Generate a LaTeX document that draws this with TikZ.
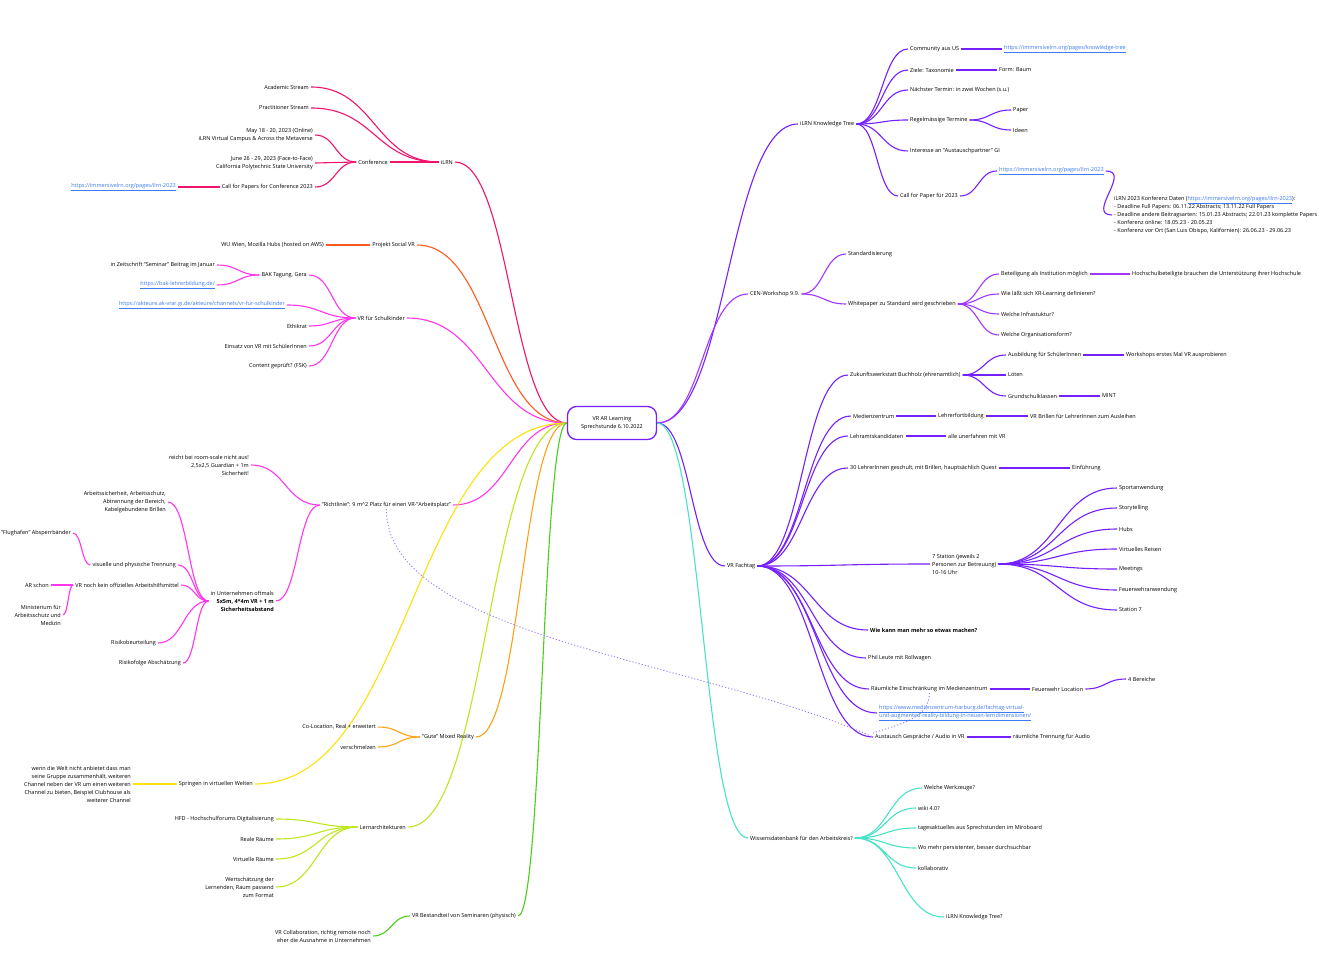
\documentclass[tikz,border=0pt]{standalone}
\usepackage{fontspec}
\setmainfont{Open Sans}
\usetikzlibrary{calc}
\pgfdeclarelayer{edgelayer}
\pgfdeclarelayer{nodelayer}
\pgfsetlayers{edgelayer,nodelayer,main}
\definecolor{crimson}{HTML}{F0146E}
\definecolor{fire}{HTML}{FF5A1F}
\definecolor{pinky}{HTML}{FF36EC}
\definecolor{sun}{HTML}{FFE10A}
\definecolor{amber}{HTML}{FFA114}
\definecolor{mmlime}{HTML}{BDE81C}
\definecolor{leaf}{HTML}{4BCF1B}
\definecolor{grape}{HTML}{7420FF}
\definecolor{lilac}{HTML}{A238FF}
\definecolor{aqua}{HTML}{48E2C6}
\definecolor{dots}{HTML}{9C7EFF}
\definecolor{linkblue}{HTML}{3D7BF0}
\newcommand{\lnk}[1]{\underline{#1}}
\tikzset{font=\fontsize{5.5}{8}\selectfont}
\tikzstyle{none}=[inner sep=0pt]
\tikzstyle{lt}=[anchor=east, align=right, inner xsep=2pt, inner ysep=1pt]
\tikzstyle{rt}=[anchor=west, align=left, inner xsep=2pt, inner ysep=1pt]
\tikzstyle{url}=[text=linkblue]
\tikzstyle{root}=[draw=grape, line width=1.3pt, rounded corners=9pt, minimum width=89pt, minimum height=33pt, fill=white, align=center]
\tikzstyle{mm}=[line width=1.1pt, to path={let \p1=(\tikztostart), \p2=(\tikztotarget), \n1={0.5*(\x2-\x1)}, \n2={-0.5*(\x2-\x1)} in .. controls +(\n1,0pt) and +(\n2,0pt) .. (\tikztotarget) \tikztonodes}]
\tikzstyle{link}=[dots, line width=0.9pt, dash pattern=on 1.2pt off 2pt]

\begin{document}
\begin{tikzpicture}[x=1pt, y=-1pt]
	\useasboundingbox (0,0) rectangle (1323,960);
	\begin{pgfonlayer}{nodelayer}
		\node [style=root] (0) at (612,423) {VR AR Learning\\Sprechstunde 6.10.2022};
		% left side
		\node [style=lt] (1) at (455,162) {iLRN};
		\node [style=lt] (2) at (390,162) {Conference};
		\node [style=lt] (3) at (311,87) {Academic Stream};
		\node [style=lt] (4) at (311,108) {Practitioner Stream};
		\node [style=lt] (5) at (315,135) {May 18 - 20, 2023 (Online)\\iLRN Virtual Campus \& Across the Metaverse};
		\node [style=lt] (6) at (315,163) {June 26 - 29, 2023 (Face-to-Face)\\California Polytechnic State University};
		\node [style=lt] (7) at (315,187) {Call for Papers for Conference 2023};
		\node [style=lt, style=url] (8) at (178,187) {\lnk{https://immersivelrn.org/pages/ilrn-2023}};
		\node [style=lt] (9) at (417,245) {Projekt Social VR};
		\node [style=lt] (10) at (326,245) {WU Wien, Mozilla Hubs (hosted on AWS)};
		\node [style=lt] (11) at (407,318) {VR für Schulkinder};
		\node [style=lt] (12) at (309,275) {BAK Tagung, Gera};
		\node [style=lt] (13) at (217,265) {in Zeitschrift "Seminar" Beitrag im Januar};
		\node [style=lt, style=url] (14) at (217,285) {\lnk{https://bak-lehrerbildung.de/}};
		\node [style=lt, style=url] (15) at (287,305) {\lnk{https://akteure.ak-vrar.gi.de/akteure/channels/vr-fur-schulkinder}};
		\node [style=lt] (16) at (309,326) {Ethikrat};
		\node [style=lt] (17) at (309,346) {Einsatz von VR mit SchülerInnen};
		\node [style=lt] (18) at (309,366) {Content geprüft? (FSK)};
		\node [style=lt] (19) at (453,505) {"Richtlinie": 9 m\textasciicircum 2 Platz für einen VR-"Arbeitsplatz"};
		\node [style=lt] (20) at (251,465) {reicht bei room-scale nicht aus!\\2,5x2,5 Guardian + 1m\\Sicherheit!};
		\node [style=lt] (21) at (276,601) {in Unternehmen oftmals\\\textbf{5x5m, 4*4m VR + 1 m}\\\textbf{Sicherheitsabstand}};
		\node [style=lt] (22) at (168,502) {Arbeitssicherheit, Arbeitsschutz,\\Abtrennung der Bereich,\\Kabelgebundene Brillen};
		\node [style=lt] (23) at (178,565) {visuelle und physische Trennung};
		\node [style=lt] (24) at (181,585) {VR noch kein offizielles Arbeitshilfsmittel};
		\node [style=lt] (25) at (158,643) {Risikobeurteilung};
		\node [style=lt] (26) at (183,663) {Risikofolge Abschätzung};
		\node [style=lt] (27) at (73,533) {"Flughafen" Absperrbänder};
		\node [style=lt] (28) at (51,585) {AR schon};
		\node [style=lt] (29) at (63,615) {Ministerium für\\Arbeitsschutz und\\Medizin};
		\node [style=lt] (30) at (255,784) {Springen in virtuellen Welten};
		\node [style=lt] (31) at (133,784) {wenn die Welt nicht anbietet dass man\\seine Gruppe zusammenhält, weiteren\\Channel neben der VR um einen weiteren\\Channel zu bieten, Beispiel Clubhouse als\\weiterer Channel};
		\node [style=lt] (32) at (476,737) {"Gute" Mixed Reality};
		\node [style=lt] (33) at (378,727) {Co-Location, Real + erweitert};
		\node [style=lt] (34) at (378,747) {verschmelzen};
		\node [style=lt] (35) at (408,827) {Lernarchitekturen};
		\node [style=lt] (36) at (276,819) {HFD - Hochschulforums Digitalisierung};
		\node [style=lt] (37) at (276,839) {Reale Räume};
		\node [style=lt] (38) at (276,859) {Virtuelle Räume};
		\node [style=lt] (39) at (276,887) {Wertschätzung der\\Lernenden, Raum passend\\zum Format};
		\node [style=lt] (40) at (518,916) {VR Bestandteil von Seminaren (physisch)};
		\node [style=lt] (41) at (373,936) {VR Collaboration, richtig remote noch\\eher die Ausnahme in Unternehmen};
		% right side
		\node [style=rt] (42) at (798,124) {iLRN Knowledge Tree};
		\node [style=rt] (43) at (908,49) {Community aus US};
		\node [style=rt, style=url] (44) at (1002,49) {\lnk{https://immersivelrn.org/pages/knowledge-tree}};
		\node [style=rt] (45) at (908,70) {Ziele: Taxonomie};
		\node [style=rt] (46) at (997,70) {Form: Baum};
		\node [style=rt] (47) at (908,90) {Nächster Termin: in zwei Wochen (s.u.)};
		\node [style=rt] (48) at (908,120) {Regelmässige Termine};
		\node [style=rt] (49) at (1011,110) {Paper};
		\node [style=rt] (50) at (1011,130) {Ideen};
		\node [style=rt] (51) at (908,151) {Interesse an "Austauschpartner" GI};
		\node [style=rt] (52) at (898,196) {Call for Paper für 2023};
		\node [style=rt, style=url] (53) at (997,171) {\lnk{https://immersivelrn.org/pages/ilrn-2023}};
		\node [style=rt] (54) at (1112,215) {iLRN 2023 Konferenz Daten ({\color{linkblue}\lnk{https://immersivelrn.org/pages/ilrn-2023}}):\\ - Deadline Full Papers: 06.11.22 Abstracts; 13.11.22 Full Papers\\ - Deadline andere Beitragsarten: 15.01.23 Abstracts; 22.01.23 komplette Papers\\ - Konferenz online: 18.05.23 - 20.05.23\\ - Konferenz vor Ort (San Luis Obispo, Kalifornien): 26.06.23 - 29.06.23};
		\node [style=rt] (55) at (748,294) {CEN-Workshop 9.9.};
		\node [style=rt] (56) at (846,254) {Standardisierung};
		\node [style=rt] (57) at (846,304) {Whitepaper zu Standard wird geschrieben};
		\node [style=rt] (58) at (999,274) {Beteiligung als Institution möglich};
		\node [style=rt] (59) at (1130,274) {Hochschulbeteiligte brauchen die Unterstützung ihrer Hochschule};
		\node [style=rt] (60) at (999,294) {Wie läßt sich XR-Learning definieren?};
		\node [style=rt] (61) at (999,314) {Welche Infrastuktur?};
		\node [style=rt] (62) at (999,335) {Welche Organisationsform?};
		\node [style=rt] (63) at (725,566) {VR Fachtag};
		\node [style=rt] (64) at (848,375) {Zukunftswerkstatt Buchholz (ehrenamtlich)};
		\node [style=rt] (65) at (1006,355) {Ausbildung für SchülerInnen};
		\node [style=rt] (66) at (1124,355) {Workshops erstes Mal VR ausprobieren};
		\node [style=rt] (67) at (1006,375) {Löten};
		\node [style=rt] (68) at (1006,396) {Grundschulklassen};
		\node [style=rt] (69) at (1100,396) {MINT};
		\node [style=rt] (70) at (851,416) {Medienzentrum};
		\node [style=rt] (71) at (936,416) {Lehrerfortbildung};
		\node [style=rt] (72) at (1028,416) {VR Brillen für LehrerInnen zum Ausleihen};
		\node [style=rt] (73) at (848,436) {Lehramtskandidaten};
		\node [style=rt] (74) at (946,436) {alle unerfahren mit VR};
		\node [style=rt] (75) at (848,468) {30 LehrerInnen geschult, mit Brillen, hauptsächlich Quest};
		\node [style=rt] (76) at (1070,468) {Einführung};
		\node [style=rt] (77) at (930,564) {7 Station (jeweils 2\\Personen zur Betreuung)\\10-16 Uhr};
		\node [style=rt] (78) at (1117,488) {Sportanwendung};
		\node [style=rt] (79) at (1117,508) {Storytelling};
		\node [style=rt] (80) at (1117,529) {Hubs};
		\node [style=rt] (81) at (1117,549) {Virtuelles Reisen};
		\node [style=rt] (82) at (1117,569) {Meetings};
		\node [style=rt] (83) at (1117,590) {Feuerwehranwendung};
		\node [style=rt] (84) at (1117,610) {Station 7};
		\node [style=rt] (85) at (868,630) {\textbf{Wie kann man mehr so etwas machen?}};
		\node [style=rt] (86) at (866,658) {Phil Leute mit Rollwagen};
		\node [style=rt] (87) at (869,689) {Räumliche Einschränkung im Medienzentrum};
		\node [style=rt] (88) at (1030,689) {Feuerwehr Location};
		\node [style=rt] (89) at (1126,679) {4 Bereiche};
		\node [style=rt, style=url] (90) at (877,713) {\lnk{https://www.medienzentrum-harburg.de/fachtag-virtual-}\\\lnk{und-augmented-reality-bildung-in-neuen-lerndimensionen/}};
		\node [style=rt] (91) at (873,737) {Austausch Gespräche / Audio in VR};
		\node [style=rt] (92) at (1011,737) {räumliche Trennung für Audio};
		\node [style=rt] (93) at (748,838) {Wissensdatenbank für den Arbeitskreis?};
		\node [style=rt] (94) at (922,788) {Welche Werkzeuge?};
		\node [style=rt] (95) at (916,808) {wiki 4.0?};
		\node [style=rt] (96) at (916,828) {tagesaktuelles aus Sprechstunden im Miroboard};
		\node [style=rt] (97) at (916,848) {Wo mehr persistenter, besser durchsuchbar};
		\node [style=rt] (98) at (916,868) {kollaborativ};
		\node [style=rt] (99) at (944,917) {iLRN Knowledge Tree?};
	\end{pgfonlayer}
	\begin{pgfonlayer}{edgelayer}
		\fill [white] (0,0) rectangle (1323,960);
		% left side
		\draw [style=mm, crimson] (0.west) to (1.east);
		\draw [style=mm, crimson] (1.west) to (2.east);
		\draw [style=mm, crimson] (1.west) to (3.east);
		\draw [style=mm, crimson] (1.west) to (4.east);
		\draw [style=mm, crimson] (2.west) to (5.east);
		\draw [style=mm, crimson] (2.west) to (6.east);
		\draw [style=mm, crimson] (2.west) to (7.east);
		\draw [style=mm, crimson] (7.west) to (8.east);
		\draw [style=mm, fire] (0.west) to (9.east);
		\draw [style=mm, fire] (9.west) to (10.east);
		\draw [style=mm, pinky] (0.west) to (11.east);
		\draw [style=mm, pinky] (11.west) to (12.east);
		\draw [style=mm, pinky] (11.west) to (15.east);
		\draw [style=mm, pinky] (11.west) to (16.east);
		\draw [style=mm, pinky] (11.west) to (17.east);
		\draw [style=mm, pinky] (11.west) to (18.east);
		\draw [style=mm, pinky] (12.west) to (13.east);
		\draw [style=mm, pinky] (12.west) to (14.east);
		\draw [style=mm, pinky] (0.west) to (19.east);
		\draw [style=mm, pinky] (19.west) to (20.east);
		\draw [style=mm, pinky] (19.west) to (21.east);
		\draw [style=mm, pinky] (21.west) to (22.east);
		\draw [style=mm, pinky] (21.west) to (23.east);
		\draw [style=mm, pinky] (21.west) to (24.east);
		\draw [style=mm, pinky] (21.west) to (25.east);
		\draw [style=mm, pinky] (21.west) to (26.east);
		\draw [style=mm, pinky] (23.west) to (27.east);
		\draw [style=mm, pinky] (24.west) to (28.east);
		\draw [style=mm, pinky] (24.west) to (29.east);
		\draw [style=mm, sun] (0.west) to (30.east);
		\draw [style=mm, sun] (30.west) to (31.east);
		\draw [style=mm, amber] (0.west) to (32.east);
		\draw [style=mm, amber] (32.west) to (33.east);
		\draw [style=mm, amber] (32.west) to (34.east);
		\draw [style=mm, mmlime] (0.west) to (35.east);
		\draw [style=mm, mmlime] (35.west) to (36.east);
		\draw [style=mm, mmlime] (35.west) to (37.east);
		\draw [style=mm, mmlime] (35.west) to (38.east);
		\draw [style=mm, mmlime] (35.west) to (39.east);
		\draw [style=mm, leaf] (0.west) to (40.east);
		\draw [style=mm, leaf] (40.west) to (41.east);
		% right side
		\draw [style=mm, grape] (0.east) to (42.west);
		\draw [style=mm, grape] (42.east) to (43.west);
		\draw [style=mm, grape] (42.east) to (45.west);
		\draw [style=mm, grape] (42.east) to (47.west);
		\draw [style=mm, grape] (42.east) to (48.west);
		\draw [style=mm, grape] (42.east) to (51.west);
		\draw [style=mm, grape] (42.east) to (52.west);
		\draw [style=mm, grape] (43.east) to (44.west);
		\draw [style=mm, grape] (45.east) to (46.west);
		\draw [style=mm, grape] (48.east) to (49.west);
		\draw [style=mm, grape] (48.east) to (50.west);
		\draw [style=mm, grape] (52.east) to (53.west);
		\draw [line width=1.1pt, grape] [in=180, out=0, looseness=1.50] (53.east) to (54.west);
		\draw [style=mm, lilac] (0.east) to (55.west);
		\draw [style=mm, lilac] (55.east) to (56.west);
		\draw [style=mm, lilac] (55.east) to (57.west);
		\draw [style=mm, lilac] (57.east) to (58.west);
		\draw [style=mm, lilac] (57.east) to (60.west);
		\draw [style=mm, lilac] (57.east) to (61.west);
		\draw [style=mm, lilac] (57.east) to (62.west);
		\draw [style=mm, lilac] (58.east) to (59.west);
		\draw [style=mm, grape] (0.east) to (63.west);
		\draw [style=mm, grape] (63.east) to (64.west);
		\draw [style=mm, grape] (63.east) to (70.west);
		\draw [style=mm, grape] (63.east) to (73.west);
		\draw [style=mm, grape] (63.east) to (75.west);
		\draw [style=mm, grape] (63.east) to (77.west);
		\draw [style=mm, grape] (63.east) to (85.west);
		\draw [style=mm, grape] (63.east) to (86.west);
		\draw [style=mm, grape] (63.east) to (87.west);
		\draw [style=mm, grape] (63.east) to (90.west);
		\draw [style=mm, grape] (63.east) to (91.west);
		\draw [style=mm, grape] (64.east) to (65.west);
		\draw [style=mm, grape] (64.east) to (67.west);
		\draw [style=mm, grape] (64.east) to (68.west);
		\draw [style=mm, grape] (65.east) to (66.west);
		\draw [style=mm, grape] (68.east) to (69.west);
		\draw [style=mm, grape] (70.east) to (71.west);
		\draw [style=mm, grape] (71.east) to (72.west);
		\draw [style=mm, grape] (73.east) to (74.west);
		\draw [style=mm, grape] (75.east) to (76.west);
		\draw [style=mm, grape] (77.east) to (78.west);
		\draw [style=mm, grape] (77.east) to (79.west);
		\draw [style=mm, grape] (77.east) to (80.west);
		\draw [style=mm, grape] (77.east) to (81.west);
		\draw [style=mm, grape] (77.east) to (82.west);
		\draw [style=mm, grape] (77.east) to (83.west);
		\draw [style=mm, grape] (77.east) to (84.west);
		\draw [style=mm, grape] (87.east) to (88.west);
		\draw [style=mm, grape] (88.east) to (89.west);
		\draw [style=mm, grape] (91.east) to (92.west);
		\draw [style=mm, aqua] (0.east) to (93.west);
		\draw [style=mm, aqua] (93.east) to (94.west);
		\draw [style=mm, aqua] (93.east) to (95.west);
		\draw [style=mm, aqua] (93.east) to (96.west);
		\draw [style=mm, aqua] (93.east) to (97.west);
		\draw [style=mm, aqua] (93.east) to (98.west);
		\draw [style=mm, aqua] (93.east) to (99.west);
		% dotted links
		\draw [style=link] (19.south) .. controls +(0,128) and +(-173,-77) .. (91.west);
		\draw [style=link] (87.south) .. controls +(0,25) and +(30,-10) .. (91.north west);
	\end{pgfonlayer}
\end{tikzpicture}
\end{document}
